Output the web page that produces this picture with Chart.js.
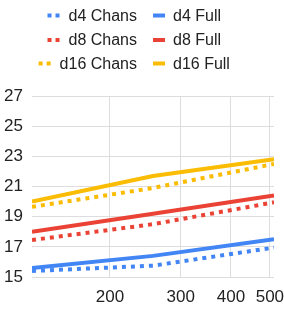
<!DOCTYPE html>
<html>
<head>
<meta charset="utf-8">
<script src="https://cdn.jsdelivr.net/npm/chart.js@4"></script>
<style>
html,body{margin:0;padding:0;background:#fff;}
canvas{display:block;}
</style>
</head>
<body>
<canvas id="c" width="284" height="311"></canvas>
<script>
const xValues = [128, 256, 512];
const xTicks = [200, 300, 400, 500];
const yTicks = [15, 17, 19, 21, 23, 25, 27];
const seriesNames = ["d4 Chans", "d4 Full", "d8 Chans", "d8 Full", "d16 Chans", "d16 Full"];
const d4Chans = [15.4, 15.75, 16.95];
const d4Full = [15.6, 16.4, 17.5];
const d8Chans = [17.45, 18.5, 19.95];
const d8Full = [18.0, 19.2, 20.4];
const d16Chans = [19.65, 20.9, 22.5];
const d16Full = [20.0, 21.7, 22.8];

const BLUE = "#4285F4", RED = "#EA4335", YELLOW = "#FBBC04";
const FONT = "'Liberation Sans', Arial, sans-serif";

function ds(label, vals, color, dotted) {
  return {
    label: label,
    data: vals.map((v, i) => ({x: xValues[i], y: v})),
    borderColor: color,
    backgroundColor: color,
    borderWidth: 4,
    borderDash: dotted ? [4, 5] : [],
    borderCapStyle: 'butt',
    pointRadius: 0,
    tension: 0,
    fill: false,
    _dotted: dotted
  };
}

const datasets = [
  ds(seriesNames[0], d4Chans, BLUE, true),
  ds(seriesNames[1], d4Full, BLUE, false),
  ds(seriesNames[2], d8Chans, RED, true),
  ds(seriesNames[3], d8Full, RED, false),
  ds(seriesNames[4], d16Chans, YELLOW, true),
  ds(seriesNames[5], d16Full, YELLOW, false)
];

const legendPlugin = {
  id: 'gridLegend',
  afterDraw(chart) {
    const ctx = chart.ctx;
    const rowsY = [15.5, 40, 63.5];
    ctx.save();
    ctx.font = "16px " + FONT;
    ctx.textBaseline = 'middle';
    chart.data.datasets.forEach((d, i) => {
      const row = Math.floor(i / 2), col = i % 2;
      const y = rowsY[row];
      let mx0, tx;
      if (col === 0) {
        const w = ctx.measureText(d.label).width;
        tx = 137 - w;
        mx0 = tx - 21;
      } else {
        mx0 = 153;
        tx = 173;
      }
      ctx.strokeStyle = d.borderColor;
      ctx.lineWidth = 4;
      ctx.lineCap = 'butt';
      ctx.setLineDash(d._dotted ? [4, 4] : []);
      ctx.beginPath();
      ctx.moveTo(mx0, y);
      ctx.lineTo(mx0 + 12, y);
      ctx.stroke();
      ctx.setLineDash([]);
      ctx.fillStyle = '#222';
      ctx.textAlign = 'left';
      ctx.fillText(d.label, tx, y + 1);
    });
    ctx.restore();
  }
};

new Chart(document.getElementById('c'), {
  type: 'line',
  data: { datasets: datasets },
  options: {
    responsive: false,
    devicePixelRatio: 1,
    animation: false,
    layout: { padding: { top: 96, right: 10, left: 0, bottom: 0 } },
    plugins: { legend: { display: false }, tooltip: { enabled: false } },
    scales: {
      x: {
        type: 'logarithmic',
        min: 128,
        max: 512,
        afterBuildTicks(scale) { scale.ticks = xTicks.map(v => ({value: v})); },
        afterFit(scale) { scale.height = 34; scale.paddingLeft = 0; scale.paddingRight = 0; },
        ticks: {
          autoSkip: false,
          maxRotation: 0,
          padding: 10,
          color: '#222',
          font: { family: FONT, size: 17 },
          callback: (v) => String(v)
        },
        grid: { color: '#dddddd', lineWidth: 1, drawTicks: false },
        border: { display: false }
      },
      y: {
        type: 'linear',
        min: 15,
        max: 27,
        afterBuildTicks(scale) { scale.ticks = yTicks.map(v => ({value: v})); },
        afterFit(scale) { scale.width = 32; scale.paddingTop = 0; scale.paddingBottom = 0; },
        ticks: {
          padding: 9,
          color: '#222',
          font: { family: FONT, size: 17 },
          callback: (v) => String(v)
        },
        grid: { color: '#dddddd', lineWidth: 1, drawTicks: false },
        border: { display: false }
      }
    }
  },
  plugins: [legendPlugin]
});
</script>
</body>
</html>
